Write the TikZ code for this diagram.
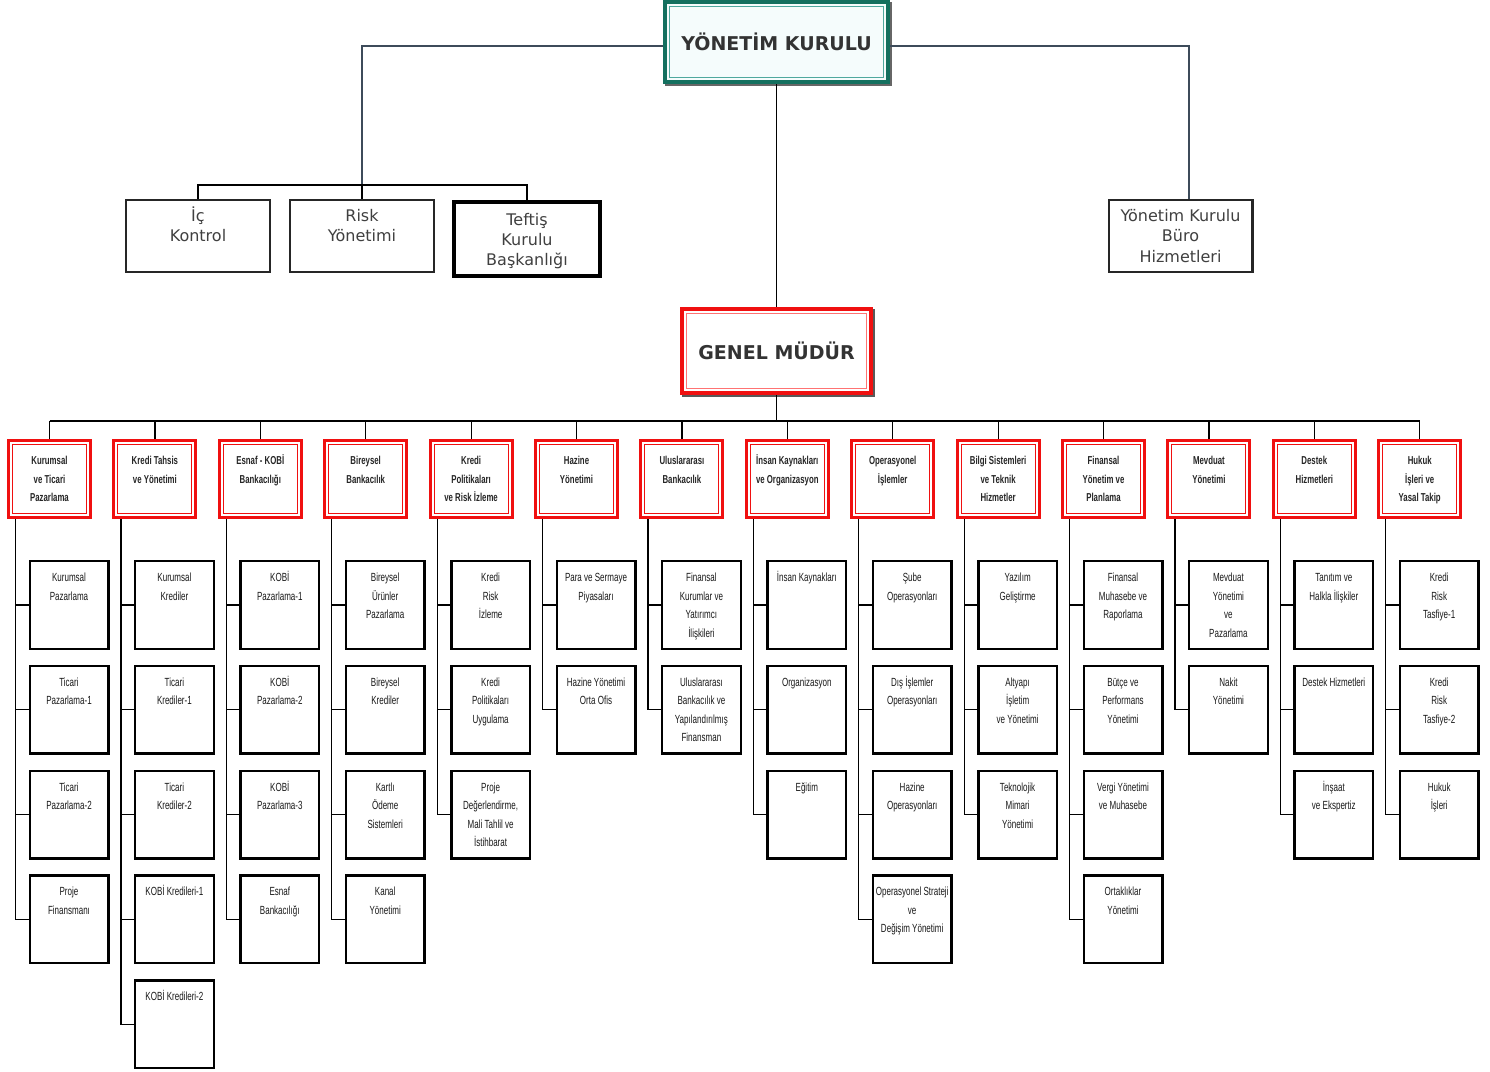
\documentclass[tikz,border=0pt]{standalone}
\usepackage{fontspec}
\setmainfont{DejaVu Sans}
\newfontfamily\narrowfont[FakeStretch=0.68]{Liberation Sans}
\definecolor{tealdark}{HTML}{14705F}
\definecolor{tealline}{HTML}{4FA89E}
\definecolor{tealfill}{HTML}{F5FCFC}
\definecolor{deptred}{HTML}{F01010}
\definecolor{topline}{HTML}{3D4B5A}
\begin{document}
\begin{tikzpicture}[x=1pt,y=-1pt,
  conn/.style={draw=black, line width=1.2pt},
  toplink/.style={draw=topline, line width=1.5pt},
  topbox/.style={draw=black!85, line width=2.4pt, fill=white, inner sep=0pt,
    minimum width=143.6pt, minimum height=71.6pt, text=black!75,
    execute at begin node={\begin{minipage}[c][70pt][t]{140pt}\centering\fontsize{16}{20.5}\selectfont\rule{0pt}{20pt}},
    execute at end node={\end{minipage}}},
  thickbox/.style={draw=black, line width=4pt, fill=white, inner sep=0pt,
    minimum width=146pt, minimum height=74pt, text=black!75,
    execute at begin node={\begin{minipage}[c][72pt][t]{140pt}\centering\fontsize{16}{20}\selectfont\rule{0pt}{22pt}},
    execute at end node={\end{minipage}}},
  ykbox/.style={draw=tealdark, line width=4pt, fill=tealfill, inner sep=0pt,
    minimum width=223pt, minimum height=80pt, text=black!80,
    font=\bfseries\fontsize{19}{22}\selectfont,
    preaction={draw=black!60, line width=4pt, transform canvas={shift={(1.5pt,-1.5pt)}}},
    path picture={\draw[tealline, line width=1.6pt] ([shift={(4.5pt,4.5pt)}]path picture bounding box.south west) rectangle ([shift={(-4.5pt,-4.5pt)}]path picture bounding box.north east);}},
  gmbox/.style={draw=deptred, line width=4pt, fill=white, inner sep=0pt,
    minimum width=189pt, minimum height=84pt, text=black!80,
    font=\bfseries\fontsize{19}{22}\selectfont,
    preaction={draw=black!65, line width=4pt, transform canvas={shift={(1.8pt,-1.8pt)}}},
    path picture={\draw[red!55, line width=1.6pt] ([shift={(4.5pt,4.5pt)}]path picture bounding box.south west) rectangle ([shift={(-4.5pt,-4.5pt)}]path picture bounding box.north east);}},
  dept/.style={draw=deptred, line width=3pt, fill=white, inner sep=0pt,
    minimum width=82pt, minimum height=77pt, text=black!85,
    path picture={\draw[deptred, line width=1pt] ([shift={(4pt,4pt)}]path picture bounding box.south west) rectangle ([shift={(-4pt,-4pt)}]path picture bounding box.north east);},
    execute at begin node={\begin{minipage}[c][76pt][t]{80pt}\centering\narrowfont\bfseries\fontsize{11.5}{18.5}\selectfont\rule{0pt}{23.5pt}},
    execute at end node={\end{minipage}}},
  sub/.style={draw=black, line width=2.4pt, fill=white, inner sep=0pt,
    minimum width=78.6pt, minimum height=87.6pt, text=black!90,
    execute at begin node={\begin{minipage}[c][87pt][t]{78pt}\centering\narrowfont\fontsize{11.8}{18.5}\selectfont\rule{0pt}{20pt}},
    execute at end node={\end{minipage}}}
]
\useasboundingbox (0,0) rectangle (1490,1071);

% top level
\node[ykbox] (yk) at (776.5,42) {YÖNETİM KURULU};
\node[topbox] (ic) at (198,236) {İç\\Kontrol};
\node[topbox] (rk) at (362,236) {Risk\\Yönetimi};
\node[thickbox] (tk) at (527,239) {Teftiş\\Kurulu\\Başkanlığı};
\node[topbox] (yb) at (1180.5,236) {Yönetim Kurulu\\Büro\\Hizmetleri};
\node[gmbox] (gm) at (776.5,351) {GENEL MÜDÜR};

\coordinate (joint) at (362,185);
\coordinate (bus) at (776.5,421);

\draw[toplink] ([yshift=-4pt]yk.west) -| (joint);
\draw[conn] (joint) -- (rk.north);
\draw[conn] (ic.north) |- (joint) -| (tk.north);
\draw[toplink] ([yshift=-4pt]yk.east) -| ([xshift=8.5pt]yb.north);
\draw[conn] (yk.south) -- (gm.north);
\draw[conn] (gm.south) -- (bus);

% departments
\foreach \i/\t in {
  1/{Kurumsal\\ve Ticari\\Pazarlama},
  2/{Kredi Tahsis\\ve Yönetimi},
  3/{Esnaf - KOBİ\\Bankacılığı},
  4/{Bireysel\\Bankacılık},
  5/{Kredi\\Politikaları\\ve Risk İzleme},
  6/{Hazine\\Yönetimi},
  7/{Uluslararası\\Bankacılık},
  8/{İnsan Kaynakları\\ve Organizasyon},
  9/{Operasyonel\\İşlemler},
  10/{Bilgi Sistemleri\\ve Teknik\\Hizmetler},
  11/{Finansal\\Yönetim ve\\Planlama},
  12/{Mevduat\\Yönetimi},
  13/{Destek\\Hizmetleri},
  14/{Hukuk\\İşleri ve\\Yasal Takip}}{
  \pgfmathsetmacro\cx{49.5+(\i-1)*105.4}
  \node[dept] (d\i) at (\cx,479) {\t};
  \draw[conn] (d\i.north) -- (d\i.north |- bus);
}
\draw[conn] (d1.north |- bus) -- (d14.north |- bus);

% sub units
\foreach \c/\r/\t in {
  1/1/{Kurumsal\\Pazarlama}, 1/2/{Ticari\\Pazarlama-1}, 1/3/{Ticari\\Pazarlama-2}, 1/4/{Proje\\Finansmanı},
  2/1/{Kurumsal\\Krediler}, 2/2/{Ticari\\Krediler-1}, 2/3/{Ticari\\Krediler-2}, 2/4/{KOBİ Kredileri-1}, 2/5/{KOBİ Kredileri-2},
  3/1/{KOBİ\\Pazarlama-1}, 3/2/{KOBİ\\Pazarlama-2}, 3/3/{KOBİ\\Pazarlama-3}, 3/4/{Esnaf\\Bankacılığı},
  4/1/{Bireysel\\Ürünler\\Pazarlama}, 4/2/{Bireysel\\Krediler}, 4/3/{Kartlı\\Ödeme\\Sistemleri}, 4/4/{Kanal\\Yönetimi},
  5/1/{Kredi\\Risk\\İzleme}, 5/2/{Kredi\\Politikaları\\Uygulama}, 5/3/{Proje\\Değerlendirme,\\Mali Tahlil ve\\İstihbarat},
  6/1/{Para ve Sermaye\\Piyasaları}, 6/2/{Hazine Yönetimi\\Orta Ofis},
  7/1/{Finansal\\Kurumlar ve\\Yatırımcı\\İlişkileri}, 7/2/{Uluslararası\\Bankacılık ve\\Yapılandırılmış\\Finansman},
  8/1/{İnsan Kaynakları}, 8/2/{Organizasyon}, 8/3/{Eğitim},
  9/1/{Şube\\Operasyonları}, 9/2/{Dış İşlemler\\Operasyonları}, 9/3/{Hazine\\Operasyonları}, 9/4/{Operasyonel Strateji\\ve\\Değişim Yönetimi},
  10/1/{Yazılım\\Geliştirme}, 10/2/{Altyapı\\İşletim\\ve Yönetimi}, 10/3/{Teknolojik\\Mimari\\Yönetimi},
  11/1/{Finansal\\Muhasebe ve\\Raporlama}, 11/2/{Bütçe ve\\Performans\\Yönetimi}, 11/3/{Vergi Yönetimi\\ve Muhasebe}, 11/4/{Ortaklıklar\\Yönetimi},
  12/1/{Mevduat\\Yönetimi\\ve\\Pazarlama}, 12/2/{Nakit\\Yönetimi},
  13/1/{Tanıtım ve\\Halkla İlişkiler}, 13/2/{Destek Hizmetleri}, 13/3/{İnşaat\\ve Ekspertiz},
  14/1/{Kredi\\Risk\\Tasfiye-1}, 14/2/{Kredi\\Risk\\Tasfiye-2}, 14/3/{Hukuk\\İşleri}}{
  \pgfmathsetmacro\sx{69+(\c-1)*105.4}
  \pgfmathsetmacro\sy{605+(\r-1)*104.8}
  \node[sub] (s\c-\r) at (\sx,\sy) {\t};
  \draw[conn] ([xshift=8.5pt]d\c.south west) |- (s\c-\r.west);
}
\end{tikzpicture}
\end{document}
